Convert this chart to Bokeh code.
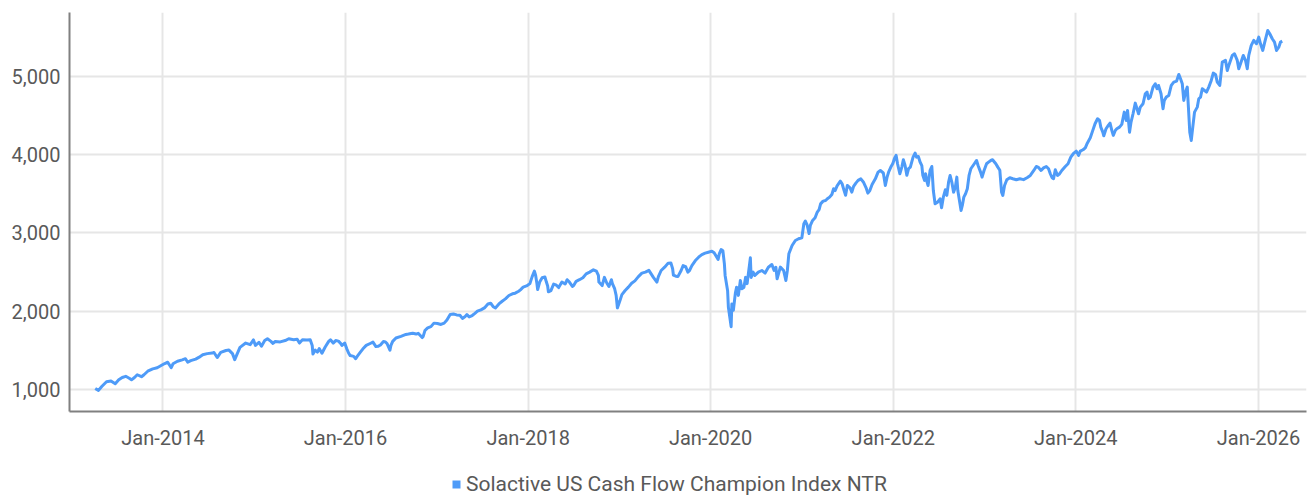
import pandas as pd
from bokeh.plotting import figure
from bokeh.layouts import column
from bokeh.models import (FixedTicker, NumeralTickFormatter, DatetimeTickFormatter,
                          Range1d, Legend, LegendItem, ColumnDataSource)
from bokeh.embed import file_html
from bokeh.resources import INLINE

series_name = "Solactive US Cash Flow Champion Index NTR"

dates = [
    "2013-04-05", "2013-04-18", "2013-05-01", "2013-05-20", "2013-06-07", "2013-06-24", "2013-07-08", "2013-07-22",
    "2013-08-05", "2013-08-19", "2013-08-28", "2013-09-09", "2013-09-20", "2013-10-07", "2013-10-17", "2013-11-01",
    "2013-11-21", "2013-12-09", "2013-12-23", "2014-01-06", "2014-01-20", "2014-02-03", "2014-02-10", "2014-02-28",
    "2014-03-19", "2014-04-01", "2014-04-10", "2014-04-22", "2014-05-12", "2014-05-26", "2014-06-09", "2014-06-27",
    "2014-07-17", "2014-07-24", "2014-08-06", "2014-08-20", "2014-09-10", "2014-09-22", "2014-10-06", "2014-10-15",
    "2014-10-24", "2014-11-05", "2014-11-28", "2014-12-16", "2014-12-29", "2015-01-06", "2015-01-20", "2015-01-30",
    "2015-02-12", "2015-02-23", "2015-03-09", "2015-03-17", "2015-03-26", "2015-04-15", "2015-05-05", "2015-05-19",
    "2015-06-08", "2015-06-22", "2015-07-01", "2015-07-13", "2015-07-31", "2015-08-13", "2015-08-21", "2015-08-24",
    "2015-09-02", "2015-09-11", "2015-09-18", "2015-09-29", "2015-10-12", "2015-10-26", "2015-11-02", "2015-11-13",
    "2015-11-23", "2015-12-04", "2015-12-14", "2015-12-18", "2015-12-29", "2016-01-06", "2016-01-14", "2016-01-20",
    "2016-02-03", "2016-02-11", "2016-02-17", "2016-02-29", "2016-03-11", "2016-03-24", "2016-04-11", "2016-04-20",
    "2016-05-02", "2016-05-10", "2016-05-20", "2016-06-01", "2016-06-09", "2016-06-16", "2016-06-27", "2016-07-01",
    "2016-07-08", "2016-07-21", "2016-08-10", "2016-08-30", "2016-09-09", "2016-09-26", "2016-10-10", "2016-10-18",
    "2016-11-03", "2016-11-07", "2016-11-14", "2016-11-25", "2016-12-08", "2016-12-20", "2017-01-03", "2017-01-17",
    "2017-01-30", "2017-02-10", "2017-02-23", "2017-03-08", "2017-03-21", "2017-04-03", "2017-04-13", "2017-04-24",
    "2017-05-01", "2017-05-10", "2017-05-22", "2017-06-02", "2017-06-12", "2017-06-26", "2017-07-10", "2017-07-24",
    "2017-08-04", "2017-08-14", "2017-08-23", "2017-09-06", "2017-09-19", "2017-10-02", "2017-10-16", "2017-10-30",
    "2017-11-10", "2017-11-24", "2017-12-01", "2017-12-12", "2017-12-28", "2018-01-08", "2018-01-17", "2018-01-26",
    "2018-01-31", "2018-02-05", "2018-02-08", "2018-02-16", "2018-02-26", "2018-03-09", "2018-03-15", "2018-03-20",
    "2018-03-23", "2018-04-02", "2018-04-13", "2018-04-24", "2018-05-03", "2018-05-16", "2018-05-29", "2018-06-06",
    "2018-06-15", "2018-06-27", "2018-07-02", "2018-07-12", "2018-07-25", "2018-08-08", "2018-08-21", "2018-09-04",
    "2018-09-19", "2018-10-01", "2018-10-09", "2018-10-11", "2018-10-24", "2018-11-02", "2018-11-12", "2018-11-20",
    "2018-11-30", "2018-12-04", "2018-12-13", "2018-12-19", "2018-12-24", "2019-01-03", "2019-01-11", "2019-01-24",
    "2019-02-06", "2019-02-19", "2019-03-04", "2019-03-18", "2019-04-01", "2019-04-15", "2019-04-29", "2019-05-08",
    "2019-05-17", "2019-05-31", "2019-06-06", "2019-06-17", "2019-07-01", "2019-07-15", "2019-07-26", "2019-08-02",
    "2019-08-05", "2019-08-15", "2019-08-23", "2019-09-05", "2019-09-13", "2019-09-23", "2019-10-02", "2019-10-08",
    "2019-10-18", "2019-11-01", "2019-11-14", "2019-11-27", "2019-12-10", "2019-12-23", "2020-01-06", "2020-01-15",
    "2020-01-31", "2020-02-05", "2020-02-12", "2020-02-19", "2020-02-25", "2020-02-28", "2020-03-09", "2020-03-12",
    "2020-03-23", "2020-03-26", "2020-04-01", "2020-04-09", "2020-04-14", "2020-04-21", "2020-04-29", "2020-05-05",
    "2020-05-13", "2020-05-20", "2020-05-26", "2020-06-08", "2020-06-11", "2020-06-19", "2020-06-26", "2020-07-10",
    "2020-07-24", "2020-08-06", "2020-08-19", "2020-09-02", "2020-09-11", "2020-09-18", "2020-09-23", "2020-10-06",
    "2020-10-19", "2020-10-28", "2020-11-03", "2020-11-09", "2020-11-22", "2020-12-05", "2020-12-18", "2020-12-31",
    "2021-01-08", "2021-01-14", "2021-01-21", "2021-01-29", "2021-02-03", "2021-02-12", "2021-02-22", "2021-03-02",
    "2021-03-10", "2021-03-16", "2021-03-26", "2021-04-05", "2021-04-12", "2021-04-21", "2021-04-30", "2021-05-07",
    "2021-05-13", "2021-05-21", "2021-06-03", "2021-06-10", "2021-06-18", "2021-06-24", "2021-07-01", "2021-07-12",
    "2021-07-19", "2021-07-26", "2021-08-04", "2021-08-13", "2021-08-24", "2021-09-03", "2021-09-14", "2021-09-21",
    "2021-09-29", "2021-10-08", "2021-10-21", "2021-11-01", "2021-11-10", "2021-11-22", "2021-11-30", "2021-12-07",
    "2021-12-13", "2021-12-22", "2021-12-30", "2022-01-05", "2022-01-12", "2022-01-18", "2022-01-27", "2022-02-04",
    "2022-02-10", "2022-02-17", "2022-02-24", "2022-03-03", "2022-03-10", "2022-03-21", "2022-03-29", "2022-04-04",
    "2022-04-11", "2022-04-18", "2022-04-25", "2022-04-29", "2022-05-06", "2022-05-10", "2022-05-16", "2022-05-20",
    "2022-05-28", "2022-06-04", "2022-06-10", "2022-06-17", "2022-06-27", "2022-07-07", "2022-07-13", "2022-07-20",
    "2022-07-28", "2022-08-03", "2022-08-10", "2022-08-16", "2022-08-23", "2022-08-30", "2022-09-06", "2022-09-12",
    "2022-09-16", "2022-09-29", "2022-10-04", "2022-10-10", "2022-10-17", "2022-10-24", "2022-10-31", "2022-11-07",
    "2022-11-21", "2022-11-30", "2022-12-06", "2022-12-16", "2022-12-22", "2022-12-30", "2023-01-09", "2023-01-17",
    "2023-01-26", "2023-02-02", "2023-02-15", "2023-02-23", "2023-03-03", "2023-03-10", "2023-03-15", "2023-03-22",
    "2023-03-31", "2023-04-12", "2023-04-24", "2023-05-08", "2023-05-22", "2023-06-06", "2023-06-20", "2023-07-03",
    "2023-07-17", "2023-07-27", "2023-08-03", "2023-08-15", "2023-08-25", "2023-09-05", "2023-09-14", "2023-09-21",
    "2023-09-28", "2023-10-04", "2023-10-11", "2023-10-20", "2023-10-27", "2023-11-06", "2023-11-20", "2023-12-01",
    "2023-12-12", "2023-12-22", "2024-01-03", "2024-01-12", "2024-01-19", "2024-01-30", "2024-02-08", "2024-02-16",
    "2024-02-28", "2024-03-08", "2024-03-18", "2024-03-28", "2024-04-05", "2024-04-10", "2024-04-18", "2024-04-22",
    "2024-05-01", "2024-05-10", "2024-05-17", "2024-05-24", "2024-05-30", "2024-06-07", "2024-06-13", "2024-06-24",
    "2024-07-03", "2024-07-13", "2024-07-21", "2024-07-26", "2024-08-03", "2024-08-09", "2024-08-17", "2024-08-26",
    "2024-09-02", "2024-09-08", "2024-09-15", "2024-09-26", "2024-10-05", "2024-10-12", "2024-10-18", "2024-10-25",
    "2024-11-05", "2024-11-14", "2024-11-21", "2024-11-27", "2024-12-07", "2024-12-15", "2024-12-20", "2024-12-28",
    "2025-01-07", "2025-01-17", "2025-01-27", "2025-02-07", "2025-02-16", "2025-02-23", "2025-03-02", "2025-03-08",
    "2025-03-15", "2025-03-22", "2025-03-28", "2025-04-01", "2025-04-07", "2025-04-13", "2025-04-20", "2025-05-01",
    "2025-05-07", "2025-05-14", "2025-05-21", "2025-05-30", "2025-06-07", "2025-06-16", "2025-06-26", "2025-07-04",
    "2025-07-13", "2025-07-20", "2025-07-30", "2025-08-09", "2025-08-22", "2025-08-29", "2025-09-04", "2025-09-18",
    "2025-09-27", "2025-10-08", "2025-10-14", "2025-10-21", "2025-11-01", "2025-11-10", "2025-11-17", "2025-11-23",
    "2025-12-03", "2025-12-13", "2025-12-24", "2026-01-02", "2026-01-09", "2026-01-18", "2026-01-26", "2026-02-07",
    "2026-02-15", "2026-02-25", "2026-03-06", "2026-03-14", "2026-03-23", "2026-03-30", "2026-04-06",
]

values = [
    1010, 985, 1035, 1095, 1105, 1070, 1120, 1150,
    1165, 1140, 1120, 1150, 1185, 1160, 1185, 1230,
    1260, 1275, 1300, 1325, 1345, 1275, 1325, 1358,
    1375, 1390, 1345, 1365, 1385, 1410, 1440, 1455,
    1462, 1470, 1405, 1470, 1495, 1500, 1455, 1378,
    1445, 1535, 1590, 1570, 1630, 1560, 1600, 1550,
    1622, 1645, 1612, 1585, 1610, 1605, 1622, 1645,
    1632, 1640, 1590, 1632, 1630, 1632, 1560, 1450,
    1500, 1475, 1520, 1460, 1540, 1612, 1632, 1590,
    1622, 1615, 1580, 1560, 1590, 1520, 1460, 1430,
    1420, 1390, 1420, 1470, 1517, 1560, 1588, 1602,
    1545, 1548, 1565, 1610, 1605, 1580, 1500, 1560,
    1612, 1655, 1675, 1700, 1705, 1715, 1705, 1715,
    1660, 1675, 1750, 1785, 1800, 1845, 1840, 1828,
    1845, 1885, 1955, 1962, 1950, 1945, 1905, 1930,
    1955, 1925, 1942, 1970, 1998, 2015, 2040, 2090,
    2100, 2055, 2040, 2090, 2125, 2155, 2198, 2220,
    2228, 2253, 2270, 2305, 2325, 2350, 2440, 2510,
    2455, 2350, 2275, 2370, 2425, 2435, 2370, 2320,
    2245, 2260, 2345, 2330, 2300, 2370, 2345, 2400,
    2370, 2315, 2325, 2380, 2400, 2425, 2475, 2497,
    2527, 2510, 2455, 2370, 2325, 2430, 2355, 2315,
    2400, 2350, 2285, 2200, 2040, 2130, 2210, 2262,
    2305, 2355, 2385, 2440, 2484, 2497, 2520, 2475,
    2430, 2370, 2440, 2518, 2560, 2612, 2615, 2540,
    2460, 2445, 2440, 2518, 2580, 2568, 2497, 2515,
    2580, 2645, 2688, 2722, 2740, 2752, 2765, 2745,
    2660, 2735, 2785, 2770, 2605, 2455, 2260, 2050,
    1800, 2090, 2010, 2228, 2305, 2200, 2390, 2285,
    2300, 2430, 2350, 2680, 2430, 2497, 2455, 2497,
    2518, 2485, 2560, 2595, 2520, 2560, 2412, 2561,
    2518, 2390, 2518, 2732, 2838, 2902, 2924, 2936,
    3115, 3150, 3100, 2990, 3095, 3158, 3192, 3260,
    3295, 3370, 3405, 3413, 3435, 3456, 3490, 3563,
    3540, 3600, 3660, 3627, 3540, 3480, 3605, 3575,
    3520, 3593, 3635, 3670, 3690, 3650, 3575, 3507,
    3540, 3618, 3690, 3776, 3797, 3765, 3605, 3712,
    3775, 3840, 3885, 3947, 3990, 3880, 3755, 3840,
    3935, 3860, 3735, 3820, 3840, 3968, 4019, 3968,
    3975, 3905, 3860, 3735, 3670, 3755, 3650, 3605,
    3797, 3848, 3541, 3371, 3392, 3435, 3320, 3456,
    3550, 3478, 3648, 3733, 3648, 3520, 3584, 3712,
    3541, 3285, 3350, 3456, 3499, 3563, 3733, 3819,
    3883, 3925, 3861, 3776, 3712, 3797, 3883, 3904,
    3925, 3934, 3883, 3840, 3800, 3520, 3478, 3605,
    3678, 3704, 3691, 3678, 3691, 3680, 3704, 3733,
    3797, 3848, 3840, 3797, 3830, 3848, 3819, 3755,
    3704, 3691, 3806, 3733, 3750, 3797, 3848, 3883,
    3968, 4011, 4044, 3990, 4044, 4062, 4087, 4146,
    4215, 4300, 4394, 4458, 4437, 4351, 4287, 4240,
    4330, 4373, 4402, 4309, 4245, 4309, 4330, 4351,
    4386, 4543, 4437, 4565, 4287, 4415, 4522, 4658,
    4586, 4522, 4607, 4650, 4778, 4799, 4714, 4735,
    4863, 4906, 4842, 4884, 4778, 4586, 4692, 4735,
    4756, 4884, 4927, 4939, 5025, 4970, 4906, 4692,
    4799, 4863, 4522, 4287, 4181, 4351, 4543, 4607,
    4714, 4735, 4842, 4820, 4799, 4863, 4948, 5042,
    5025, 4927, 4884, 5182, 5204, 5076, 5140, 5268,
    5289, 5204, 5098, 5162, 5268, 5204, 5098, 5268,
    5396, 5460, 5417, 5502, 5417, 5332, 5439, 5588,
    5545, 5481, 5439, 5332, 5374, 5439, 5451,
]

y_ticks = [1000, 2000, 3000, 4000, 5000]
x_tick_dates = ["2014-01-01", "2016-01-01", "2018-01-01", "2020-01-01",
                "2022-01-01", "2024-01-01", "2026-01-01"]

FONT = "Roboto"
TEXT_COLOR = "#595959"
LINE_COLOR = "#4e9bf8"

source = ColumnDataSource(dict(date=pd.to_datetime(dates), value=values))

# ---- main chart ----
p = figure(width=1314, height=460, x_axis_type="datetime",
           output_backend="svg", toolbar_location=None,
           x_range=Range1d(pd.Timestamp("2012-12-23"), pd.Timestamp("2026-07-12")),
           y_range=Range1d(715, 5817),
           min_border_left=69, min_border_right=8, min_border_top=12, min_border_bottom=49)
p.outline_line_color = None

p.line("date", "value", source=source, line_color=LINE_COLOR, line_width=3,
       line_join="round")

x_ticks = [pd.Timestamp(d).value // 10**6 for d in x_tick_dates]
p.xaxis.ticker = FixedTicker(ticks=x_ticks)
fmt = "%b-%Y"
p.xaxis.formatter = DatetimeTickFormatter(years=fmt, months=fmt, days=fmt, hours=fmt,
                                          minutes=fmt, seconds=fmt, milliseconds=fmt,
                                          microseconds=fmt, minsec=fmt, hourmin=fmt)
p.yaxis.ticker = FixedTicker(ticks=y_ticks)
p.yaxis.formatter = NumeralTickFormatter(format="0,0")

for ax in (p.xaxis, p.yaxis):
    ax.axis_line_color = "#808080"
    ax.axis_line_width = 2
    ax.major_tick_line_color = None
    ax.minor_tick_line_color = None
    ax.major_tick_out = 0
    ax.major_tick_in = 0
    ax.minor_tick_out = 0
    ax.major_label_text_font = FONT
    ax.major_label_text_font_size = "20px"
    ax.major_label_text_color = TEXT_COLOR
p.xaxis.major_label_standoff = 14
p.yaxis.major_label_standoff = 9

for g in (p.xgrid, p.ygrid):
    g.grid_line_color = "#e6e6e6"
    g.grid_line_width = 2

# ---- legend strip below the chart ----
lg = figure(width=1314, height=36, output_backend="svg", toolbar_location=None,
            x_range=Range1d(0, 1), y_range=Range1d(0, 1),
            x_axis_location=None, y_axis_location=None,
            min_border_left=0, min_border_right=0, min_border_top=0, min_border_bottom=0)
lg.outline_line_color = None
lg.grid.visible = False
nan = float("nan")
swatch_src = ColumnDataSource(dict(left=[nan], right=[nan], top=[nan], bottom=[nan]))
swatch = lg.quad(left="left", right="right", top="top", bottom="bottom", source=swatch_src,
                 fill_color=LINE_COLOR, line_color=None)

legend = Legend(items=[LegendItem(label=series_name, renderers=[swatch], index=0)],
                location=(382, 0), orientation="horizontal",
                glyph_width=10, glyph_height=10, label_standoff=5,
                padding=0, margin=0, spacing=0,
                label_text_font=FONT, label_text_font_size="21px",
                label_text_color=TEXT_COLOR,
                background_fill_alpha=0, border_line_color=None)
lg.add_layout(legend, "center")

layout = column(p, lg, spacing=0)
open("out.html", "w").write(file_html(layout, INLINE))
